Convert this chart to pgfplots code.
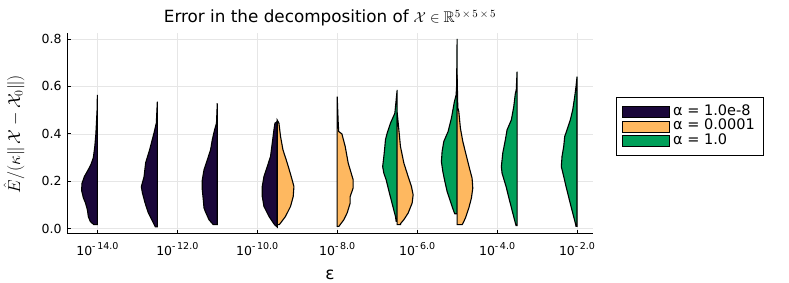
\documentclass[border=0pt]{standalone}
\usepackage{pgfplots}
\usepackage{pgfplotstable}
\usepackage{amssymb}
\usepackage{fontspec}
\setmainfont{DejaVu Sans}
\pgfplotsset{compat=1.18}
\definecolor{purp}{RGB}{26,7,58}
\definecolor{oran}{RGB}{254,184,96}
\definecolor{gree}{RGB}{0,160,90}
\definecolor{gridc}{RGB}{230,230,230}

% half-violin outlines: y value, half-width w in pixels (40 px = 1 unit of log10 eps)
\pgfplotstableread[row sep=\\]{
y w\\ 0.017 0\\ 0.017 3.5\\ 0.03 7\\ 0.05 9\\ 0.08 10\\ 0.11 12\\ 0.13 14\\ 0.16 15.7\\ 0.19 15.5\\ 0.22 13\\ 0.25 9\\ 0.27 6.5\\ 0.30 4\\ 0.35 2.5\\ 0.40 1.5\\ 0.50 0.3\\ 0.564 0\\
}\vA
\pgfplotstableread[row sep=\\]{
y w\\ 0.008 0\\ 0.008 2\\ 0.025 4\\ 0.067 9\\ 0.109 12.3\\ 0.152 15\\ 0.177 16\\ 0.219 13.3\\ 0.278 11.7\\ 0.333 7.7\\ 0.404 3.3\\ 0.446 1\\ 0.536 0\\
}\vB
\pgfplotstableread[row sep=\\]{
y w\\ 0.017 0\\ 0.017 4\\ 0.038 8.3\\ 0.073 12\\ 0.088 13.3\\ 0.122 14\\ 0.164 15\\ 0.206 15\\ 0.248 13.3\\ 0.29 10\\ 0.333 6.7\\ 0.375 5\\ 0.417 2.7\\ 0.445 0.8\\ 0.529 0\\
}\vC
\pgfplotstableread[row sep=\\]{
y w\\ 0.007 0\\ 0.017 2.7\\ 0.052 8.3\\ 0.094 13.3\\ 0.136 15\\ 0.178 15\\ 0.22 13.3\\ 0.262 10\\ 0.305 6.7\\ 0.361 5\\ 0.417 3.3\\ 0.445 2.3\\ 0.452 0\\
}\vDp
\pgfplotstableread[row sep=\\]{
y w\\ 0.017 0\\ 0.017 2\\ 0.024 3.3\\ 0.052 8.3\\ 0.094 13.3\\ 0.136 16\\ 0.178 16.7\\ 0.22 14\\ 0.277 10\\ 0.333 5.7\\ 0.389 3.3\\ 0.445 1.7\\ 0.458 0\\
}\vDo
\pgfplotstableread[row sep=\\]{
y w\\ 0.01 0\\ 0.01 1.7\\ 0.038 6.7\\ 0.067 10\\ 0.108 13\\ 0.136 13\\ 0.172 16\\ 0.206 16\\ 0.277 11\\ 0.347 8\\ 0.40 4.7\\ 0.41 1.5\\ 0.45 1\\ 0.557 0\\
}\vE
\pgfplotstableread[row sep=\\]{
y w\\ 0.031 0\\ 0.031 1\\ 0.052 1.7\\ 0.094 4.3\\ 0.15 7.7\\ 0.206 11\\ 0.234 13.3\\ 0.262 14.5\\ 0.305 13.3\\ 0.347 12.3\\ 0.375 11.7\\ 0.403 10\\ 0.445 6.7\\ 0.487 2.3\\ 0.543 1\\ 0.585 0\\
}\vFg
\pgfplotstableread[row sep=\\]{
y w\\ 0.017 0\\ 0.017 3.3\\ 0.021 3.3\\ 0.038 6.7\\ 0.066 11\\ 0.108 15\\ 0.143 16\\ 0.178 14.3\\ 0.22 11\\ 0.277 6.7\\ 0.347 3.3\\ 0.417 1.7\\ 0.47 0.5\\ 0.49 0\\
}\vFo
\pgfplotstableread[row sep=\\]{
y w\\ 0.063 0\\ 0.063 2.3\\ 0.073 3.3\\ 0.115 6.7\\ 0.157 10\\ 0.2 12.3\\ 0.241 14.3\\ 0.283 15.7\\ 0.326 15\\ 0.368 13.3\\ 0.41 9\\ 0.466 5.7\\ 0.536 2.7\\ 0.564 1\\ 0.60 0.5\\ 0.80 0\\
}\vGg
\pgfplotstableread[row sep=\\]{
y w\\ 0.017 0\\ 0.017 5\\ 0.024 6\\ 0.045 8.3\\ 0.087 11.7\\ 0.129 14.3\\ 0.171 15.7\\ 0.213 15\\ 0.256 12.3\\ 0.312 9\\ 0.368 5.7\\ 0.424 3.3\\ 0.494 1.7\\ 0.51 0.7\\ 0.65 0\\
}\vGo
\pgfplotstableread[row sep=\\]{
y w\\ 0.013 0\\ 0.013 1\\ 0.024 1.7\\ 0.066 4.3\\ 0.122 7.7\\ 0.178 11\\ 0.234 15\\ 0.262 15.7\\ 0.319 14.3\\ 0.375 11.7\\ 0.417 10\\ 0.459 5.7\\ 0.515 3.3\\ 0.571 1.7\\ 0.585 0.8\\ 0.662 0\\
}\vH
\pgfplotstableread[row sep=\\]{
y w\\ 0.01 0\\ 0.01 1\\ 0.024 1.7\\ 0.066 4.3\\ 0.122 7.7\\ 0.178 11\\ 0.22 13.3\\ 0.262 15.7\\ 0.305 15\\ 0.347 13.3\\ 0.389 12.3\\ 0.417 10\\ 0.459 6.7\\ 0.501 4.3\\ 0.557 2.3\\ 0.6 1\\ 0.641 0\\
}\vI

\newcommand\xtl[1]{10\raisebox{0.9ex}{\fontsize{9.5}{9.5}\selectfont -\,#1}}

\begin{document}
\begin{tikzpicture}
\useasboundingbox (0,0) rectangle (789pt,282pt);
\begin{axis}[
  at={(67pt,48.3pt)}, anchor=south west,
  scale only axis, width=526pt, height=200.4pt,
  xmin=-14.76, xmax=-1.6, ymin=-0.021, ymax=0.824,
  axis lines*=left,
  axis line style={black, line width=0.9pt},
  tick style={black, line width=0.8pt},
  major tick length=4pt,
  xtick={-14,-12,-10,-8,-6,-4,-2},
  xticklabels={\xtl{14.0},\xtl{12.0},\xtl{10.0},\xtl{8.0},\xtl{6.0},\xtl{4.0},\xtl{2.0}},
  ytick={0,0.2,0.4,0.6,0.8},
  yticklabels={0.0,0.2,0.4,0.6,0.8},
  xticklabel style={font=\fontsize{12.5}{12.5}\selectfont, yshift=-5pt},
  yticklabel style={font=\fontsize{12.5}{12.5}\selectfont, xshift=-2pt},
  grid=major,
  grid style={gridc, line width=0.6pt},
  title={{\fontsize{16.8}{16.8}\selectfont Error in the decomposition of} $\mathcal{X}\in\mathbb{R}^{5\,\times\,5\,\times\,5}$},
  title style={at={(axis description cs:0.5,1.025)}, anchor=base, font=\fontsize{15.5}{15.5}\selectfont},
  xlabel={ε},
  xlabel style={at={(axis description cs:0.5,-0.205)}, anchor=center, font=\fontsize{17}{17}\selectfont},
  ylabel={$\hat{E}/(\kappa\|\,\mathcal{X}-\mathcal{X}_0\|)$},
  ylabel style={at={(axis description cs:-0.1008,0.497)}, anchor=center, rotate=0, font=\fontsize{16.5}{16.5}\selectfont},
  clip=false,
  legend image code/.code={\draw[#1, line width=1pt] (0pt,-5.5pt) rectangle (47pt,5.5pt);},
  legend style={at={(1.0432,0.6806)}, anchor=north west, draw=black, line width=1pt,
    font=\fontsize{14.5}{14.5}\selectfont, inner xsep=5.5pt, inner ysep=7.5pt, row sep=1pt,
    nodes={inner ysep=0.5pt, inner xsep=3.5pt, text height=9.5pt, text depth=3pt},
    cells={anchor=west}},
]
\addlegendimage{fill=purp, draw=black}
\addlegendentry{α = 1.0e-8}
\addlegendimage{fill=oran, draw=black}
\addlegendentry{α = 0.0001}
\addlegendimage{fill=gree, draw=black}
\addlegendentry{α = 1.0}

\addplot[fill=purp, draw=black, line width=1.1pt, forget plot] table[x expr={-14-\thisrow{w}/40}, y=y] {\vA} -- cycle;
\addplot[fill=purp, draw=black, line width=1.1pt, forget plot] table[x expr={-12.5-\thisrow{w}/40}, y=y] {\vB} -- cycle;
\addplot[fill=purp, draw=black, line width=1.1pt, forget plot] table[x expr={-11-\thisrow{w}/40}, y=y] {\vC} -- cycle;
\addplot[fill=purp, draw=black, line width=1.1pt, forget plot] table[x expr={-9.5-\thisrow{w}/40}, y=y] {\vDp} -- cycle;
\addplot[fill=oran, draw=black, line width=1.1pt, forget plot] table[x expr={-9.5+\thisrow{w}/40}, y=y] {\vDo} -- cycle;
\addplot[fill=oran, draw=black, line width=1.1pt, forget plot] table[x expr={-8+\thisrow{w}/40}, y=y] {\vE} -- cycle;
\addplot[fill=gree, draw=black, line width=1.1pt, forget plot] table[x expr={-6.5-\thisrow{w}/40}, y=y] {\vFg} -- cycle;
\addplot[fill=oran, draw=black, line width=1.1pt, forget plot] table[x expr={-6.5+\thisrow{w}/40}, y=y] {\vFo} -- cycle;
\addplot[fill=gree, draw=black, line width=1.1pt, forget plot] table[x expr={-5-\thisrow{w}/40}, y=y] {\vGg} -- cycle;
\addplot[fill=oran, draw=black, line width=1.1pt, forget plot] table[x expr={-5+\thisrow{w}/40}, y=y] {\vGo} -- cycle;
\addplot[fill=gree, draw=black, line width=1.1pt, forget plot] table[x expr={-3.5-\thisrow{w}/40}, y=y] {\vH} -- cycle;
\addplot[fill=gree, draw=black, line width=1.1pt, forget plot] table[x expr={-2-\thisrow{w}/40}, y=y] {\vI} -- cycle;
\end{axis}
\end{tikzpicture}
\end{document}
